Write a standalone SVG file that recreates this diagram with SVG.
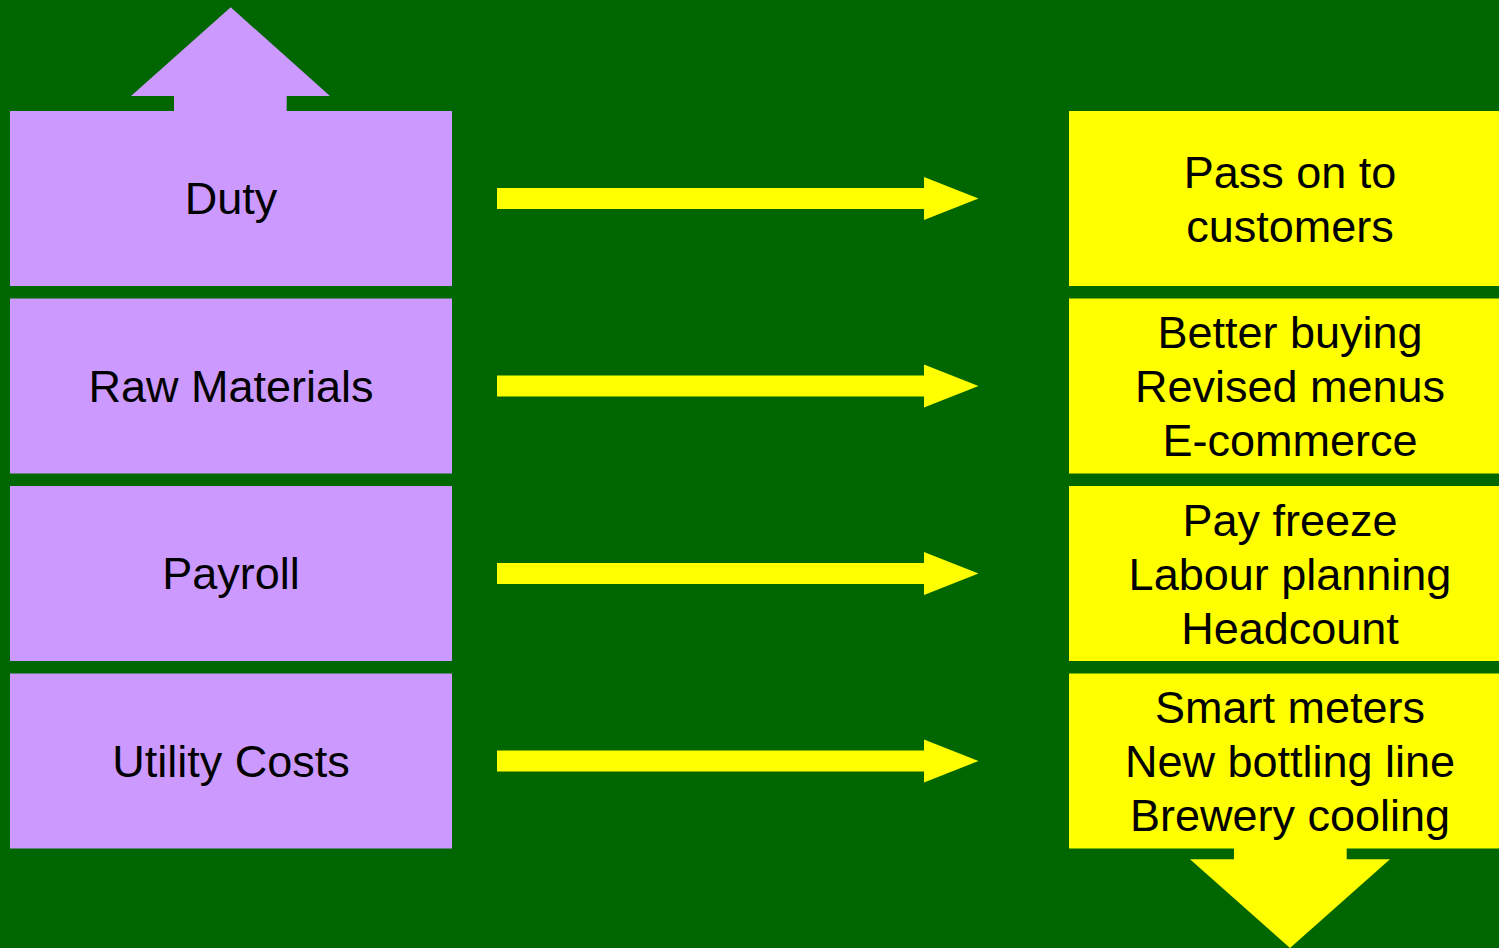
<svg xmlns="http://www.w3.org/2000/svg" width="1499" height="948" viewBox="0 0 1499 948">
<defs>
<style>
.bg{fill:#006600}
.cost{fill:#cc99ff}
.act{fill:#ffff00}
.arr{fill:#ffff00}
.t{font-family:"Liberation Sans",Arial,sans-serif;font-size:45px;fill:#000000;text-anchor:middle}
</style>
<path id="rarrow" d="M497,-10.5 H924 V-21.5 L978.5,0 L924,21.5 V10.5 H497 Z"/>
</defs>
<rect class="bg" x="0" y="0" width="1499" height="948"/>
<g id="up-arrow">
<polygon class="cost" points="230.7,7.3 330,96 286.7,96 286.7,111 174,111 174,96 131,96"/>
</g>
<g id="down-arrow">
<polygon class="act" points="1234,848 1346.7,848 1346.7,859.3 1390,859.3 1290,948 1190,859.3 1234,859.3"/>
</g>
<g id="duty">
<rect class="cost" x="10" y="111" width="442" height="175"/>
<text class="t" x="231" y="214">Duty</text>
</g>
<g id="raw-materials">
<rect class="cost" x="10" y="298.5" width="442" height="175"/>
<text class="t" x="231" y="402">Raw Materials</text>
</g>
<g id="payroll">
<rect class="cost" x="10" y="486" width="442" height="175"/>
<text class="t" x="231" y="589">Payroll</text>
</g>
<g id="utility-costs">
<rect class="cost" x="10" y="673.5" width="442" height="175"/>
<text class="t" x="231" y="777">Utility Costs</text>
</g>
<g id="pass-on">
<rect class="act" x="1069" y="111" width="430" height="175"/>
<text class="t" x="1290" y="188">Pass on to</text>
<text class="t" x="1290" y="242">customers</text>
</g>
<g id="raw-actions">
<rect class="act" x="1069" y="298.5" width="430" height="175"/>
<text class="t" x="1290" y="348">Better buying</text>
<text class="t" x="1290" y="402">Revised menus</text>
<text class="t" x="1290" y="456">E-commerce</text>
</g>
<g id="payroll-actions">
<rect class="act" x="1069" y="486" width="430" height="175"/>
<text class="t" x="1290" y="535.5">Pay freeze</text>
<text class="t" x="1290" y="589.5">Labour planning</text>
<text class="t" x="1290" y="643.5">Headcount</text>
</g>
<g id="utility-actions">
<rect class="act" x="1069" y="673.5" width="430" height="175"/>
<text class="t" x="1290" y="723">Smart meters</text>
<text class="t" x="1290" y="777">New bottling line</text>
<text class="t" x="1290" y="831">Brewery cooling</text>
</g>
<g id="connectors">
<use href="#rarrow" class="arr" transform="translate(0,198.5)"/>
<use href="#rarrow" class="arr" transform="translate(0,386)"/>
<use href="#rarrow" class="arr" transform="translate(0,573.5)"/>
<use href="#rarrow" class="arr" transform="translate(0,761)"/>
</g>
</svg>
